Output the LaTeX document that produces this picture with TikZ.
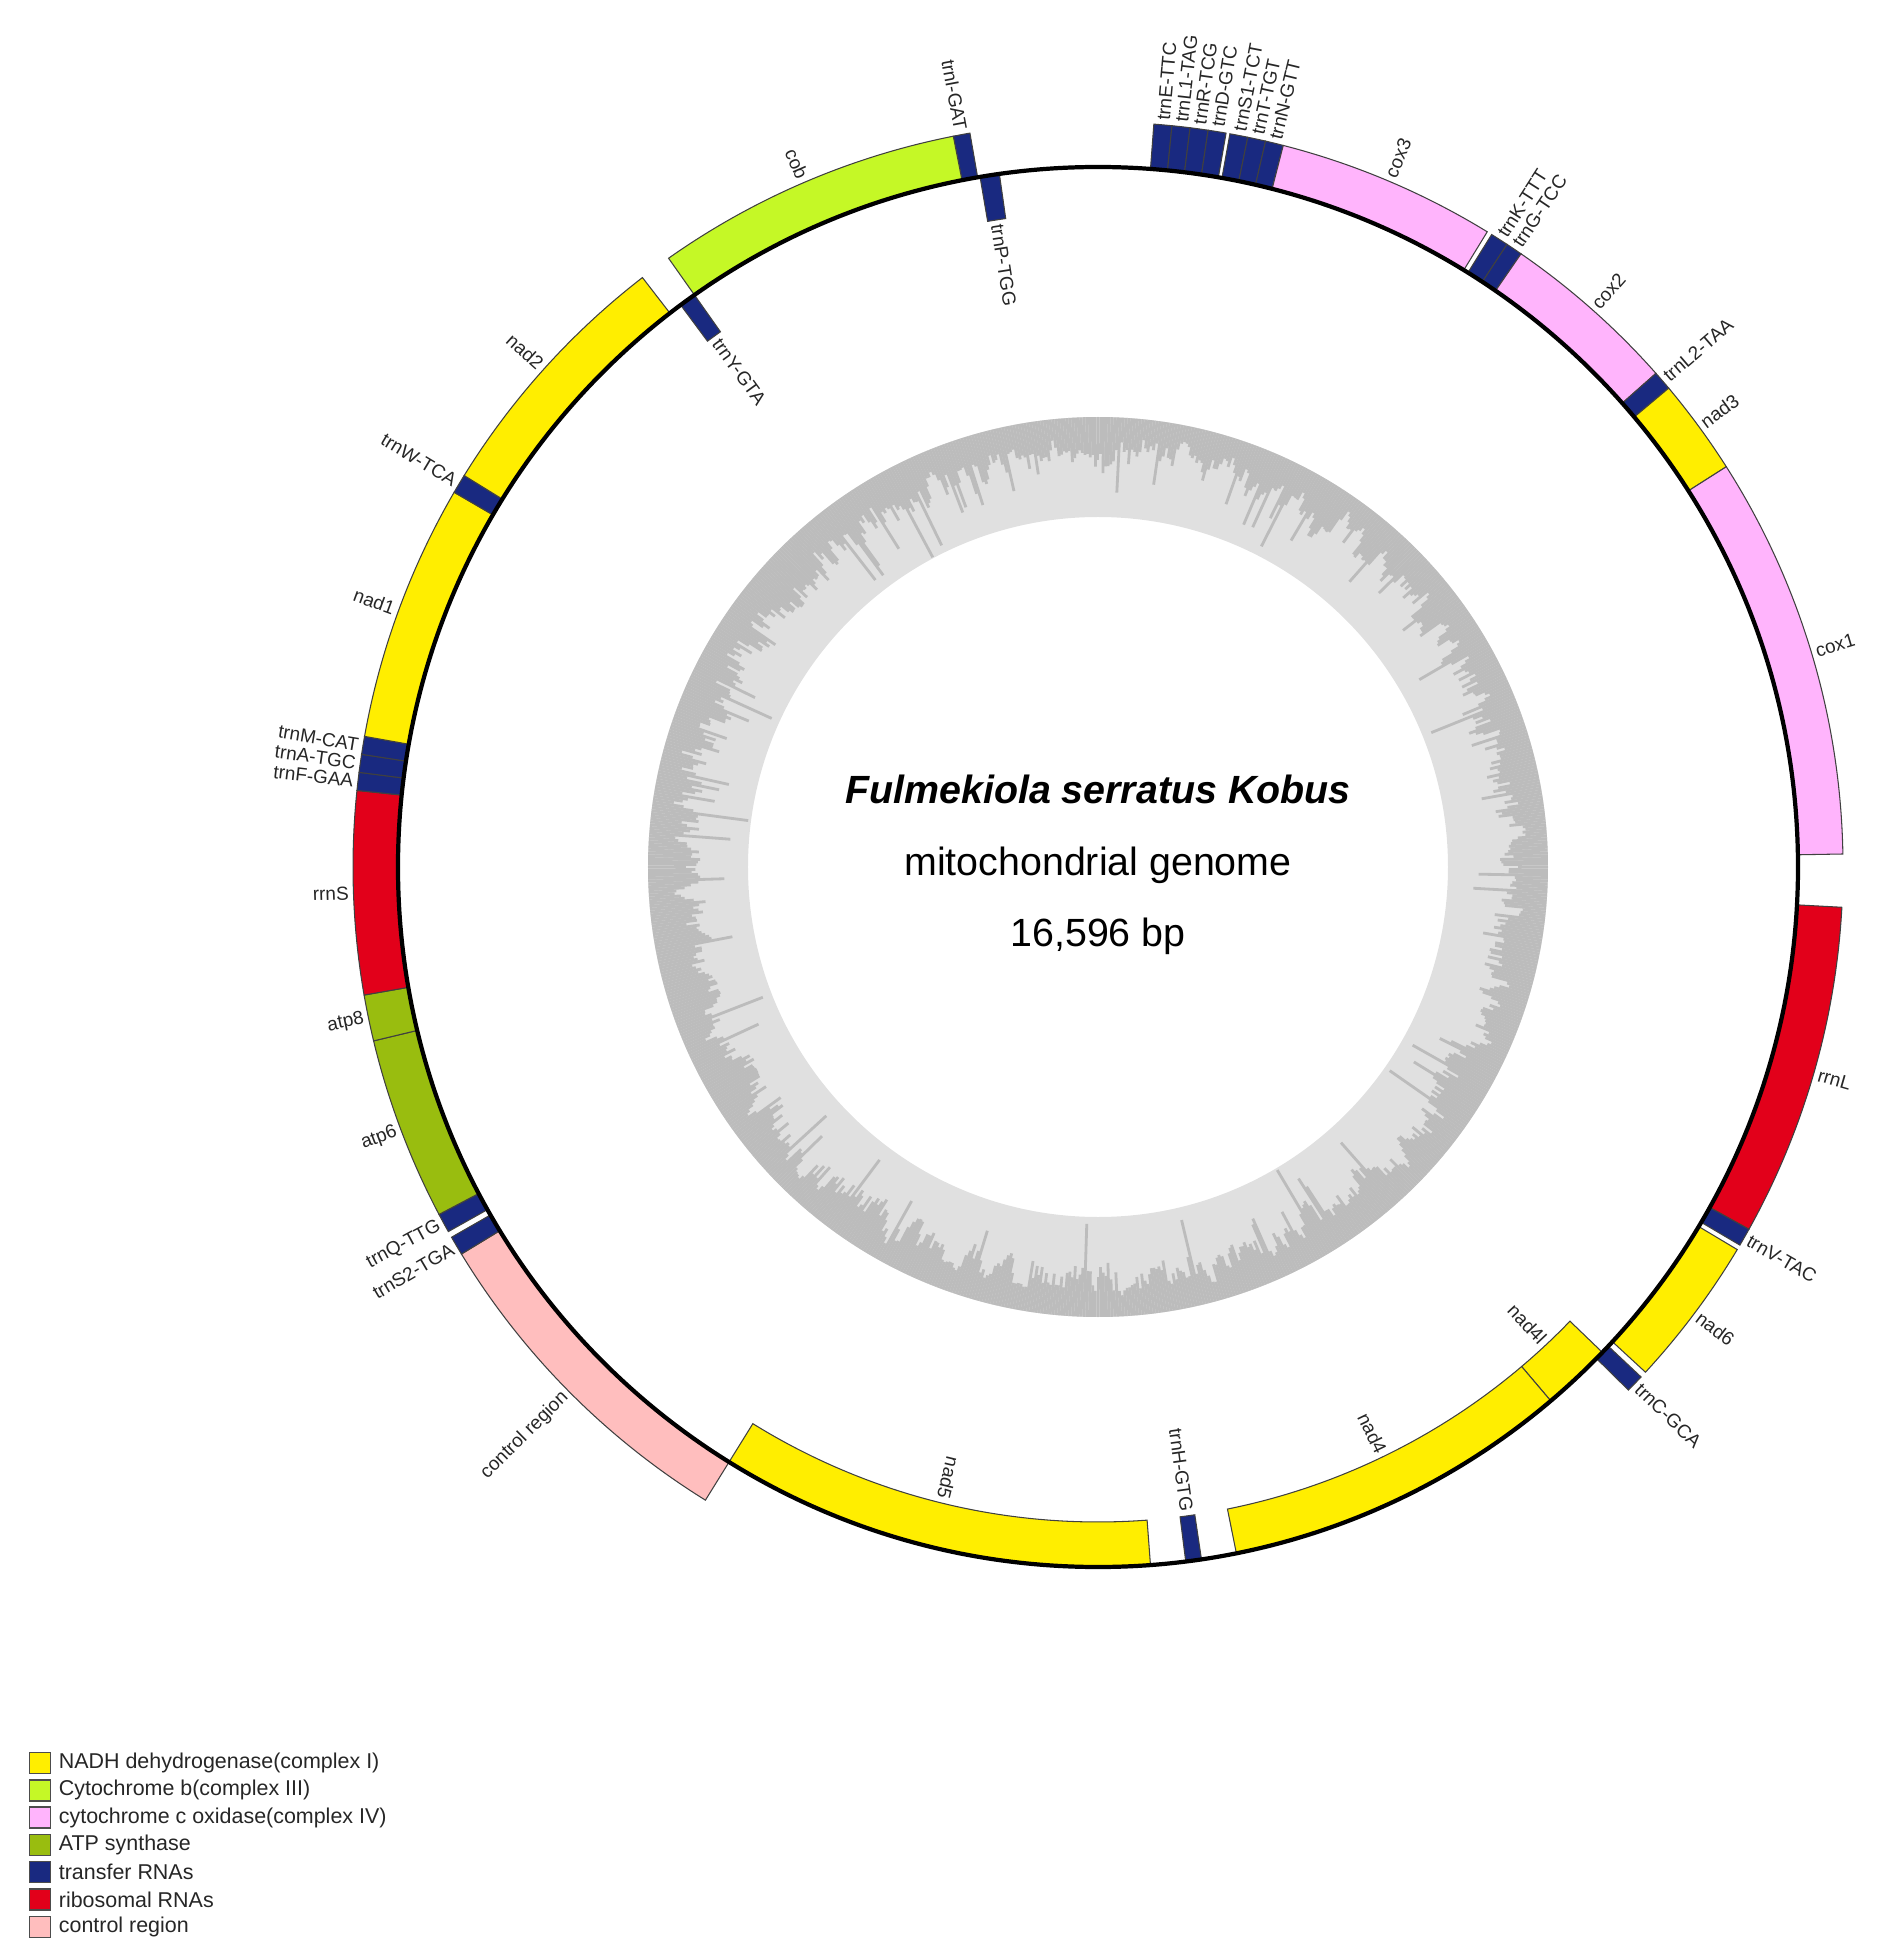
\documentclass[tikz,border=0pt]{standalone}
\usepackage{fontspec}
\setmainfont{Liberation Sans}
\usetikzlibrary{positioning}
\definecolor{nadhcol}{RGB}{255,238,0}
\definecolor{cobcol}{RGB}{197,248,38}
\definecolor{coxcol}{RGB}{255,180,252}
\definecolor{atpcol}{RGB}{153,189,15}
\definecolor{trnacol}{RGB}{25,41,128}
\definecolor{rrnacol}{RGB}{226,0,26}
\definecolor{ctrlcol}{RGB}{255,190,190}
\definecolor{gclight}{RGB}{224,224,224}
\definecolor{gcdark}{RGB}{188,188,188}

\begin{document}
\begin{tikzpicture}[
  gene/.style={draw=black!75, line width=0.3pt},
  nadh/.style={gene, fill=nadhcol},
  cytb/.style={gene, fill=cobcol},
  cox/.style={gene, fill=coxcol},
  atp/.style={gene, fill=atpcol},
  trna/.style={gene, fill=trnacol},
  rrna/.style={gene, fill=rrnacol},
  ctrl/.style={gene, fill=ctrlcol},
  backbone/.style={line width=1.2pt},
  gcbar/.style={gcdark, line width=0.8pt},
  glabel/.style={font=\fontsize{5.4}{6}\selectfont, inner sep=0.3pt, text=black!85},
  legbox/.style={draw=black!70, line width=0.4pt, minimum size=0.21cm, inner sep=0pt},
  legtext/.style={font=\fontsize{6.1}{7}\selectfont, inner sep=0pt, text=black!85, anchor=west}]
  \useasboundingbox (-10.98,-10.90) rectangle (8.03,8.67);

  % GC ring
  \fill[gclight, even odd rule] (0,0) circle (4.5) (0,0) circle (3.5);
  \pgfmathsetseed{42}
  \gdef\prevbase{0.35}
  \foreach \i in {0,...,999}{
    \pgfmathsetmacro\ang{\i*0.36}
    \pgfmathsetmacro\base{0.55*\prevbase+0.45*(0.1+0.55*rnd)}
    \xdef\prevbase{\base}
    \pgfmathsetmacro\dep{min(\base+0.5*(rnd>0.9)*rnd,0.99)}
    \pgfmathsetmacro\rin{4.5-\dep}
    \draw[gcbar] (\ang:4.5) -- (\ang:\rin);
  }

  % outer genes
  \filldraw[trna] (101.2:7) arc (101.2:99.9:7) -- (99.9:7.45) arc (99.9:101.2:7.45) -- cycle;
  \filldraw[trna] (85.7:7) arc (85.7:84.3:7) -- (84.3:7.45) arc (84.3:85.7:7.45) -- cycle;
  \filldraw[trna] (84.3:7) arc (84.3:82.9:7) -- (82.9:7.45) arc (82.9:84.3:7.45) -- cycle;
  \filldraw[trna] (82.9:7) arc (82.9:81.5:7) -- (81.5:7.45) arc (81.5:82.9:7.45) -- cycle;
  \filldraw[trna] (81.5:7) arc (81.5:80.1:7) -- (80.1:7.45) arc (80.1:81.5:7.45) -- cycle;
  \filldraw[trna] (79.8:7) arc (79.8:78.4:7) -- (78.4:7.45) arc (78.4:79.8:7.45) -- cycle;
  \filldraw[trna] (78.4:7) arc (78.4:77.0:7) -- (77.0:7.45) arc (77.0:78.4:7.45) -- cycle;
  \filldraw[trna] (77.0:7) arc (77.0:75.6:7) -- (75.6:7.45) arc (75.6:77.0:7.45) -- cycle;
  \filldraw[cox] (75.6:7) arc (75.6:58.5:7) -- (58.5:7.45) arc (58.5:75.6:7.45) -- cycle;
  \filldraw[trna] (58.1:7) arc (58.1:56.7:7) -- (56.7:7.45) arc (56.7:58.1:7.45) -- cycle;
  \filldraw[trna] (56.7:7) arc (56.7:55.4:7) -- (55.4:7.45) arc (55.4:56.7:7.45) -- cycle;
  \filldraw[cox] (55.4:7) arc (55.4:41.5:7) -- (41.5:7.45) arc (41.5:55.4:7.45) -- cycle;
  \filldraw[trna] (41.5:7) arc (41.5:40.0:7) -- (40.0:7.45) arc (40.0:41.5:7.45) -- cycle;
  \filldraw[nadh] (40.0:7) arc (40.0:32.5:7) -- (32.5:7.45) arc (32.5:40.0:7.45) -- cycle;
  \filldraw[cox] (32.5:7) arc (32.5:1.0:7) -- (1.0:7.45) arc (1.0:32.5:7.45) -- cycle;
  \filldraw[rrna] (-3.1:7) arc (-3.1:-29.1:7) -- (-29.1:7.45) arc (-29.1:-3.1:7.45) -- cycle;
  \filldraw[trna] (-29.1:7) arc (-29.1:-30.5:7) -- (-30.5:7.45) arc (-30.5:-29.1:7.45) -- cycle;
  \filldraw[nadh] (-30.9:7) arc (-30.9:-42.7:7) -- (-42.7:7.45) arc (-42.7:-30.9:7.45) -- cycle;
  \filldraw[trna] (-43.2:7) arc (-43.2:-44.6:7) -- (-44.6:7.45) arc (-44.6:-43.2:7.45) -- cycle;
  \filldraw[ctrl] (-121.8:7) arc (-121.8:-148.7:7) -- (-148.7:7.45) arc (-148.7:-121.8:7.45) -- cycle;
  \filldraw[trna] (-148.7:7) arc (-148.7:-150.2:7) -- (-150.2:7.45) arc (-150.2:-148.7:7.45) -- cycle;
  \filldraw[trna] (-150.7:7) arc (-150.7:-152.2:7) -- (-152.2:7.45) arc (-152.2:-150.7:7.45) -- cycle;
  \filldraw[atp] (-152.2:7) arc (-152.2:-166.5:7) -- (-166.5:7.45) arc (-166.5:-152.2:7.45) -- cycle;
  \filldraw[atp] (-166.5:7) arc (-166.5:-170.1:7) -- (-170.1:7.45) arc (-170.1:-166.5:7.45) -- cycle;
  \filldraw[rrna] (-170.1:7) arc (-170.1:-185.9:7) -- (-185.9:7.45) arc (-185.9:-170.1:7.45) -- cycle;
  \filldraw[trna] (-185.9:7) arc (-185.9:-187.3:7) -- (-187.3:7.45) arc (-187.3:-185.9:7.45) -- cycle;
  \filldraw[trna] (-187.3:7) arc (-187.3:-188.7:7) -- (-188.7:7.45) arc (-188.7:-187.3:7.45) -- cycle;
  \filldraw[trna] (-188.7:7) arc (-188.7:-190.1:7) -- (-190.1:7.45) arc (-190.1:-188.7:7.45) -- cycle;
  \filldraw[nadh] (-190.1:7) arc (-190.1:-210.2:7) -- (-210.2:7.45) arc (-210.2:-190.1:7.45) -- cycle;
  \filldraw[trna] (-210.2:7) arc (-210.2:-211.7:7) -- (-211.7:7.45) arc (-211.7:-210.2:7.45) -- cycle;
  \filldraw[nadh] (-211.7:7) arc (-211.7:-232.3:7) -- (-232.3:7.45) arc (-232.3:-211.7:7.45) -- cycle;
  \filldraw[cytb] (-234.8:7) arc (-234.8:-258.8:7) -- (-258.8:7.45) arc (-258.8:-234.8:7.45) -- cycle;

  % inner genes
  \filldraw[trna] (-260.3:6.55) arc (-260.3:-261.9:6.55) -- (-261.9:7) arc (-261.9:-260.3:7) -- cycle;
  \filldraw[nadh] (-43.9:6.55) arc (-43.9:-49.7:6.55) -- (-49.7:7) arc (-49.7:-43.9:7) -- cycle;
  \filldraw[nadh] (-49.7:6.55) arc (-49.7:-78.6:6.55) -- (-78.6:7) arc (-78.6:-49.7:7) -- cycle;
  \filldraw[trna] (-81.5:6.55) arc (-81.5:-82.8:6.55) -- (-82.8:7) arc (-82.8:-81.5:7) -- cycle;
  \filldraw[nadh] (-85.7:6.55) arc (-85.7:-121.8:6.55) -- (-121.8:7) arc (-121.8:-85.7:7) -- cycle;
  \filldraw[trna] (-233.4:6.55) arc (-233.4:-234.8:6.55) -- (-234.8:7) arc (-234.8:-233.4:7) -- cycle;

  \draw[backbone] (0,0) circle (7);

  % labels outside, right half
  \node[glabel, rotate=85.0, anchor=west] (lab-trnE) at (85.0:7.48) {trnE-TTC};
  \node[glabel, rotate=83.6, anchor=west] (lab-trnL1) at (83.6:7.48) {trnL1-TAG};
  \node[glabel, rotate=82.2, anchor=west] (lab-trnR) at (82.2:7.48) {trnR-TCG};
  \node[glabel, rotate=80.8, anchor=west] (lab-trnD) at (80.8:7.48) {trnD-GTC};
  \node[glabel, rotate=79.1, anchor=west] (lab-trnS1) at (79.1:7.48) {trnS1-TCT};
  \node[glabel, rotate=77.7, anchor=west] (lab-trnT) at (77.7:7.48) {trnT-TGT};
  \node[glabel, rotate=76.3, anchor=west] (lab-trnN) at (76.3:7.48) {trnN-GTT};
  \node[glabel, rotate=67.05, anchor=west] (lab-cox3) at (67.05:7.48) {cox3};
  \node[glabel, rotate=57.4, anchor=west] (lab-trnK) at (57.4:7.48) {trnK-TTT};
  \node[glabel, rotate=56.05, anchor=west] (lab-trnG) at (56.05:7.48) {trnG-TCC};
  \node[glabel, rotate=48.45, anchor=west] (lab-cox2) at (48.45:7.48) {cox2};
  \node[glabel, rotate=40.75, anchor=west] (lab-trnL2) at (40.75:7.48) {trnL2-TAA};
  \node[glabel, rotate=36.25, anchor=west] (lab-nad3) at (36.25:7.48) {nad3};
  \node[glabel, rotate=16.75, anchor=west] (lab-cox1) at (16.75:7.48) {cox1};
  \node[glabel, rotate=-16.1, anchor=west] (lab-rrnL) at (-16.1:7.48) {rrnL};
  \node[glabel, rotate=-29.8, anchor=west] (lab-trnV) at (-29.8:7.48) {trnV-TAC};
  \node[glabel, rotate=-36.8, anchor=west] (lab-nad6) at (-36.8:7.48) {nad6};
  \node[glabel, rotate=-43.9, anchor=west] (lab-trnC) at (-43.9:7.48) {trnC-GCA};

  % labels outside, left half
  \node[glabel, rotate=-79.45, anchor=east] (lab-trnI) at (100.55:7.48) {trnI-GAT};
  \node[glabel, rotate=44.75, anchor=east] (lab-ctrl) at (-135.25:7.48) {control region};
  \node[glabel, rotate=30.55, anchor=east] (lab-trnS2) at (-149.45:7.48) {trnS2-TGA};
  \node[glabel, rotate=28.55, anchor=east] (lab-trnQ) at (-151.45:7.48) {trnQ-TTG};
  \node[glabel, rotate=20.65, anchor=east] (lab-atp6) at (-159.35:7.48) {atp6};
  \node[glabel, rotate=11.7, anchor=east] (lab-atp8) at (-168.3:7.48) {atp8};
  \node[glabel, rotate=2.0, anchor=east] (lab-rrnS) at (-178.0:7.48) {rrnS};
  \node[glabel, rotate=-6.6, anchor=east] (lab-trnF) at (-186.6:7.48) {trnF-GAA};
  \node[glabel, rotate=-8.0, anchor=east] (lab-trnA) at (-188.0:7.48) {trnA-TGC};
  \node[glabel, rotate=-9.4, anchor=east] (lab-trnM) at (-189.4:7.48) {trnM-CAT};
  \node[glabel, rotate=-20.15, anchor=east] (lab-nad1) at (-200.15:7.48) {nad1};
  \node[glabel, rotate=-30.95, anchor=east] (lab-trnW) at (-210.95:7.48) {trnW-TCA};
  \node[glabel, rotate=-42.0, anchor=east] (lab-nad2) at (-222.0:7.48) {nad2};
  \node[glabel, rotate=-66.8, anchor=east] (lab-cob) at (-246.8:7.48) {cob};

  % labels inside
  \node[glabel, rotate=-46.8, anchor=east] (lab-nad4l) at (-46.8:6.52) {nad4l};
  \node[glabel, rotate=-64.15, anchor=east] (lab-nad4) at (-64.15:6.52) {nad4};
  \node[glabel, rotate=-82.15, anchor=east] (lab-trnH) at (-82.15:6.52) {trnH-GTG};
  \node[glabel, rotate=-103.75, anchor=east] (lab-nad5) at (-103.75:6.52) {nad5};
  \node[glabel, rotate=-81.1, anchor=west] (lab-trnP) at (-261.1:6.52) {trnP-TGG};
  \node[glabel, rotate=-54.1, anchor=west] (lab-trnY) at (-234.1:6.52) {trnY-GTA};

  % centre text
  \node[font=\fontsize{11.2}{13}\selectfont\bfseries\itshape, anchor=base, inner sep=0pt] (title) at (0,0.63) {Fulmekiola serratus Kobus};
  \node[font=\fontsize{11.2}{13}\selectfont, anchor=base, inner sep=0pt] (kind) at (0,-0.08) {mitochondrial genome};
  \node[font=\fontsize{11.2}{13}\selectfont, anchor=base, inner sep=0pt] (length) at (0,-0.79) {16,596 bp};

  % legend
  \node[legbox, fill=nadhcol] (key-nadh) at (-10.58,-8.96) {};
  \node[legtext, right=0.07cm of key-nadh] (txt-nadh) {NADH dehydrogenase(complex I)};
  \node[legbox, fill=cobcol] (key-cob) at (-10.58,-9.233) {};
  \node[legtext, right=0.07cm of key-cob] (txt-cob) {Cytochrome b(complex III)};
  \node[legbox, fill=coxcol] (key-cox) at (-10.58,-9.506) {};
  \node[legtext, right=0.07cm of key-cox] (txt-cox) {cytochrome c oxidase(complex IV)};
  \node[legbox, fill=atpcol] (key-atp) at (-10.58,-9.779) {};
  \node[legtext, right=0.07cm of key-atp] (txt-atp) {ATP synthase};
  \node[legbox, fill=trnacol] (key-trna) at (-10.58,-10.052) {};
  \node[legtext, right=0.07cm of key-trna] (txt-trna) {transfer RNAs};
  \node[legbox, fill=rrnacol] (key-rrna) at (-10.58,-10.325) {};
  \node[legtext, right=0.07cm of key-rrna] (txt-rrna) {ribosomal RNAs};
  \node[legbox, fill=ctrlcol] (key-ctrl) at (-10.58,-10.598) {};
  \node[legtext, right=0.07cm of key-ctrl] (txt-ctrl) {control region};
\end{tikzpicture}
\end{document}
